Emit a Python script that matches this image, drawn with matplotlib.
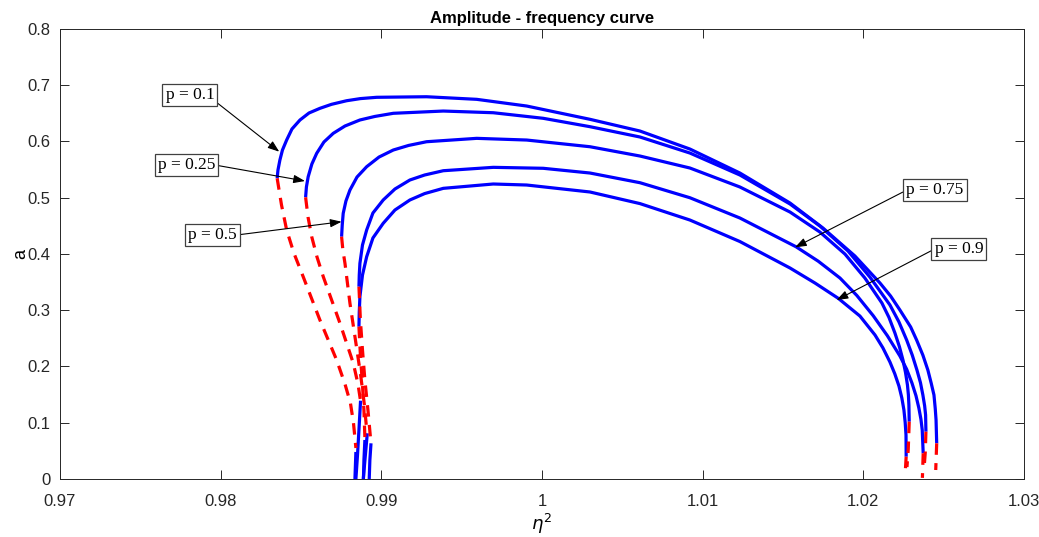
import numpy as np
from matplotlib import pyplot as plt
from matplotlib.ticker import FixedLocator, FuncFormatter

# Amplitude-frequency curves, values as (eta^2, a) pairs
p_labels = ['p = 0.1', 'p = 0.25', 'p = 0.5', 'p = 0.75', 'p = 0.9']

# stable upper branches (blue)
upper_p01 = [(0.98352, 0.5341), (0.98357, 0.5488), (0.98369, 0.5666), (0.98385, 0.5844),
             (0.98411, 0.6021), (0.98444, 0.6217), (0.98494, 0.6377), (0.98550, 0.6501),
             (0.98618, 0.6584), (0.98690, 0.6655), (0.98784, 0.6719), (0.98870, 0.6757),
             (0.98971, 0.6780), (0.99282, 0.6790), (0.99594, 0.6744), (0.99905, 0.6625),
             (1.00299, 0.6389), (1.00610, 0.6181), (1.00921, 0.5861), (1.01232, 0.5435),
             (1.01544, 0.4902), (1.01749, 0.4458), (1.01948, 0.3961), (1.02104, 0.3481),
             (1.02170, 0.3250), (1.02228, 0.3002), (1.02295, 0.2700), (1.02332, 0.2469),
             (1.02371, 0.2200), (1.02402, 0.1936), (1.02423, 0.1700), (1.02440, 0.1492),
             (1.02448, 0.1250), (1.02453, 0.1048), (1.02457, 0.0634)]
upper_p025 = [(0.98529, 0.5004), (0.98534, 0.5187), (0.98545, 0.5369), (0.98568, 0.5595),
              (0.98598, 0.5785), (0.98643, 0.5986), (0.98701, 0.6140), (0.98774, 0.6270),
              (0.98867, 0.6377), (0.98960, 0.6440), (0.99075, 0.6496), (0.99386, 0.6536),
              (0.99697, 0.6506), (1.00008, 0.6407), (1.00299, 0.6258), (1.00610, 0.6075),
              (1.00921, 0.5790), (1.01232, 0.5400), (1.01544, 0.4885), (1.01730, 0.4494),
              (1.01905, 0.4050), (1.02041, 0.3588), (1.02166, 0.3091), (1.02222, 0.2790),
              (1.02270, 0.2469), (1.02305, 0.2200), (1.02334, 0.1936), (1.02356, 0.1710),
              (1.02371, 0.1492), (1.02382, 0.1300), (1.02388, 0.1137), (1.02390, 0.0840)]
upper_p05 = [(0.98753, 0.4304), (0.98757, 0.4512), (0.98763, 0.4719), (0.98780, 0.4938),
             (0.98805, 0.5133), (0.98849, 0.5364), (0.98909, 0.5547), (0.98986, 0.5719),
             (0.99075, 0.5844), (0.99170, 0.5925), (0.99282, 0.5991), (0.99594, 0.6051),
             (0.99905, 0.6021), (1.00299, 0.5902), (1.00610, 0.5737), (1.00921, 0.5524),
             (1.01232, 0.5187), (1.01544, 0.4742), (1.01730, 0.4387), (1.01886, 0.3996),
             (1.02010, 0.3570), (1.02116, 0.3126), (1.02160, 0.2870), (1.02197, 0.2593),
             (1.02225, 0.2350), (1.02247, 0.2114), (1.02263, 0.1890), (1.02275, 0.1670),
             (1.02281, 0.1490), (1.02284, 0.1314), (1.02286, 0.1018)]
upper_p075 = [(0.98861, 0.3416), (0.98863, 0.3623), (0.98867, 0.3831), (0.98883, 0.4156),
              (0.98909, 0.4423), (0.98948, 0.4725), (0.99012, 0.4956), (0.99085, 0.5151),
              (0.99178, 0.5311), (0.99270, 0.5400), (0.99386, 0.5476), (0.99697, 0.5536),
              (1.00008, 0.5519), (1.00299, 0.5435), (1.00610, 0.5263), (1.00921, 0.4996),
              (1.01232, 0.4636), (1.01581, 0.4126), (1.01720, 0.3868), (1.01855, 0.3570),
              (1.01960, 0.3260), (1.02062, 0.2900), (1.02150, 0.2545), (1.02228, 0.2185),
              (1.02270, 0.1950), (1.02303, 0.1705), (1.02328, 0.1480), (1.02346, 0.1261),
              (1.02359, 0.1060), (1.02367, 0.0870), (1.02373, 0.0456)]
upper_p09 = [(0.98861, 0.2705), (0.98863, 0.2966), (0.98867, 0.3238), (0.98883, 0.3623),
             (0.98909, 0.3948), (0.98948, 0.4281), (0.99012, 0.4542), (0.99085, 0.4778),
             (0.99178, 0.4956), (0.99270, 0.5070), (0.99386, 0.5163), (0.99697, 0.5240),
             (0.99905, 0.5222), (1.00299, 0.5098), (1.00610, 0.4892), (1.00921, 0.4600),
             (1.01232, 0.4218), (1.01544, 0.3748), (1.01700, 0.3480), (1.01844, 0.3210),
             (1.01979, 0.2895), (1.02073, 0.2558), (1.02122, 0.2330), (1.02166, 0.2078),
             (1.02196, 0.1870), (1.02222, 0.1652), (1.02240, 0.1440), (1.02253, 0.1226),
             (1.02261, 0.1000), (1.02266, 0.0782), (1.02267, 0.0396)]

# unstable branches (red dashed), left side
left_red_p01 = [(0.98352, 0.5341), (0.98379, 0.4867), (0.98411, 0.4423), (0.98456, 0.4014),
                (0.98514, 0.3593), (0.98618, 0.2824), (0.98722, 0.2114), (0.98774, 0.1687),
                (0.98808, 0.1350), (0.98827, 0.0995), (0.98842, 0.0551)]
left_red_p025 = [(0.98529, 0.5004), (0.98544, 0.4654), (0.98567, 0.4304), (0.98600, 0.3943),
                 (0.98639, 0.3593), (0.98743, 0.2766), (0.98826, 0.2055), (0.98855, 0.1687),
                 (0.98870, 0.1403)]
left_red_p05 = [(0.98753, 0.4304), (0.98761, 0.4067), (0.98774, 0.3831), (0.98805, 0.3121),
                (0.98842, 0.2416), (0.98873, 0.1817), (0.98895, 0.1314), (0.98911, 0.0817)]
left_red_p075 = [(0.98861, 0.3416), (0.98870, 0.2824), (0.98883, 0.2291), (0.98898, 0.1758),
                 (0.98917, 0.1226), (0.98934, 0.0693)]
left_red_p09 = [(0.98861, 0.2705), (0.98870, 0.2202), (0.98883, 0.1670), (0.98892, 0.1226),
                (0.98898, 0.0728)]

# unstable branches (red dashed), right side
right_red_p01 = [(1.02457, 0.0634), (1.02451, 0.0160)]
right_red_p025 = [(1.02390, 0.0840), (1.02386, 0.0480), (1.02380, 0.0250)]
right_red_p05 = [(1.02286, 0.1018), (1.02280, 0.0533), (1.02272, 0.0213)]
right_red_p075 = [(1.02373, 0.0456), (1.02368, 0.0020)]
right_red_p09 = [(1.02267, 0.0396), (1.02261, 0.0107)]

# stable lower branches (blue) near eta^2 = 0.989
low_p01 = [(0.98842, 0.0480), (0.98836, 0.0)]
low_p025 = [(0.98871, 0.1391), (0.98861, 0.0870), (0.98852, 0.0426), (0.98842, 0.0)]
low_p05 = [(0.98913, 0.0812), (0.98901, 0.0426), (0.98888, 0.0)]
low_p075 = [(0.98936, 0.0634), (0.98929, 0.0337), (0.98925, 0.0)]
low_p09 = [(0.98898, 0.0693), (0.98892, 0.0337), (0.98889, 0.0)]

# label boxes and arrow tips
label_xy = [(0.97809, 0.6821), (0.97787, 0.5577), (0.97949, 0.4334), (1.02446, 0.5128), (1.02595, 0.4085)]
tip_xy = [(0.98365, 0.5814), (0.98525, 0.5293), (0.98753, 0.4570), (1.01575, 0.4115), (1.01834, 0.3179)]

x_ticks = [0.97, 0.98, 0.99, 1.0, 1.01, 1.02, 1.03]
y_ticks = [0, 0.1, 0.2, 0.3, 0.4, 0.5, 0.6, 0.7, 0.8]

uppers = [upper_p01, upper_p025, upper_p05, upper_p075, upper_p09]
left_reds = [left_red_p01, left_red_p025, left_red_p05, left_red_p075, left_red_p09]
right_reds = [right_red_p01, right_red_p025, right_red_p05, right_red_p075, right_red_p09]
lows = [low_p01, low_p025, low_p05, low_p075, low_p09]

plt.rcParams['font.family'] = ['Liberation Sans Narrow', 'Liberation Sans', 'DejaVu Sans']

fig = plt.figure(figsize=(10.39, 5.37), dpi=100)
ax = fig.add_axes([0.0577, 0.108, 0.9278, 0.8387])

for branch in uppers + lows:
    xs, ys = np.array(branch).T
    ax.plot(xs, ys, color='#0000ff', lw=2.3, solid_capstyle='butt', solid_joinstyle='round')
for branch in left_reds + right_reds:
    xs, ys = np.array(branch).T
    ax.plot(xs, ys, color='#ff0000', lw=2.3, dashes=(3.6, 2.6), dash_capstyle='butt')

for i, txt in enumerate(p_labels):
    left_side = label_xy[i][0] < 1.0
    rel = (1.0, 0.5) if left_side else (0.0, 0.5)
    if i == 0:
        rel = (1.0, 0.15)
    ax.annotate(txt, xy=tip_xy[i], xytext=label_xy[i], ha='center', va='center',
                family='Liberation Serif', fontsize=12.5,
                bbox=dict(boxstyle='square,pad=0.18', fc='white', ec='#404040', lw=0.9),
                arrowprops=dict(arrowstyle='-|>,head_length=0.55,head_width=0.2',
                                color='black', lw=0.8, relpos=rel,
                                shrinkA=0, shrinkB=0))

ax.set_xlim(0.97, 1.03)
ax.set_ylim(0, 0.8)
ax.xaxis.set_major_locator(FixedLocator(x_ticks))
ax.yaxis.set_major_locator(FixedLocator(y_ticks))
ax.xaxis.set_major_formatter(FuncFormatter(lambda v, pos: '%g' % round(v, 4)))
ax.yaxis.set_major_formatter(FuncFormatter(lambda v, pos: '%g' % round(v, 4)))
ax.tick_params(direction='in', length=6.5, width=0.7, colors='#262626',
               labelsize=12, top=True, right=True)
ax.tick_params(axis='x', pad=11)
ax.tick_params(axis='y', pad=7)
for s in ax.spines.values():
    s.set_color('#262626')
    s.set_linewidth(0.7)

ax.set_title('Amplitude - frequency curve', fontsize=12, fontweight='bold', pad=4)
ax.set_xlabel(r'$\eta^2$', fontsize=13, labelpad=2)
ax.set_ylabel('a', fontsize=13)
ax.yaxis.set_label_coords(-0.032, 0.5)

plt.savefig('out.png', dpi=100)
